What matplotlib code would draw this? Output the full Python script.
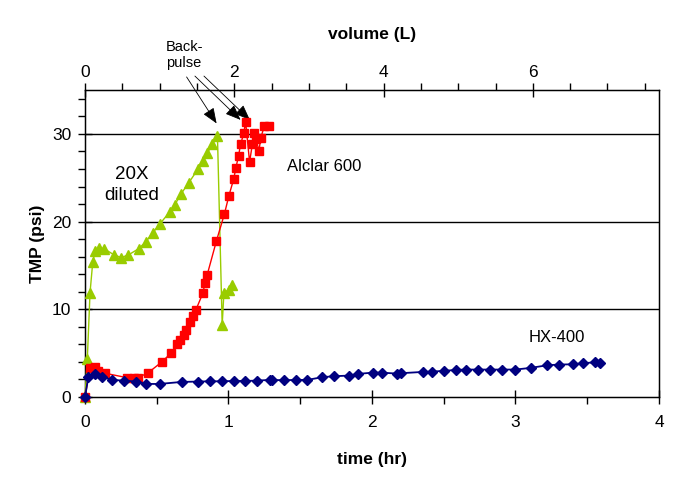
import matplotlib
matplotlib.use("Agg")
import matplotlib.pyplot as plt
from matplotlib.ticker import MultipleLocator

plt.rcParams['font.family'] = ['Liberation Sans', 'DejaVu Sans']

# 20X diluted (green triangles)
t_dil = [0, 0.016, 0.035, 0.054, 0.07, 0.10, 0.133, 0.203, 0.252, 0.303, 0.373, 0.424,
         0.471, 0.52, 0.59, 0.625, 0.671, 0.722, 0.788, 0.823, 0.853, 0.888, 0.923,
         0.956, 0.968, 1.002, 1.021]
tmp_dil = [0, 4.3, 11.9, 15.4, 16.6, 17.0, 16.9, 16.2, 15.9, 16.2, 16.9, 17.7,
           18.7, 19.7, 21.1, 21.9, 23.2, 24.4, 26.0, 26.9, 27.8, 28.9, 29.8,
           8.2, 11.9, 12.2, 12.8]

# Alclar 600 (red squares)
t_alc = [0, 0.035, 0.07, 0.093, 0.14, 0.29, 0.338, 0.366, 0.436, 0.536, 0.60, 0.641,
         0.664, 0.688, 0.706, 0.73, 0.753, 0.772, 0.823, 0.835, 0.851, 0.916, 0.972,
         1.002, 1.037, 1.051, 1.07, 1.084, 1.107, 1.119, 1.147, 1.166, 1.177, 1.194,
         1.212, 1.224, 1.25, 1.28]
tmp_alc = [0, 3.3, 3.4, 3.0, 2.7, 2.2, 2.2, 2.2, 2.7, 4.0, 5.0, 6.0,
           6.5, 7.1, 7.6, 8.6, 9.2, 9.9, 11.9, 13.0, 13.9, 17.8, 20.9,
           22.9, 24.9, 26.1, 27.5, 28.8, 30.1, 31.4, 26.8, 28.8, 30.1, 29.4,
           28.0, 29.5, 30.9, 30.9]

# HX-400 (navy diamonds)
t_hx = [0, 0.023, 0.07, 0.121, 0.189, 0.27, 0.357, 0.424, 0.52, 0.674, 0.788, 0.87,
        0.953, 1.037, 1.117, 1.20, 1.289, 1.303, 1.385, 1.469, 1.55, 1.653, 1.736,
        1.837, 1.90, 2.005, 2.068, 2.173, 2.20, 2.354, 2.42, 2.50, 2.587, 2.653,
        2.737, 2.82, 2.904, 3.00, 3.105, 3.222, 3.303, 3.399, 3.469, 3.555, 3.59]
tmp_hx = [0, 2.25, 2.66, 2.28, 1.94, 1.86, 1.75, 1.48, 1.48, 1.71, 1.75, 1.78,
          1.78, 1.82, 1.82, 1.86, 1.94, 1.94, 1.90, 1.94, 1.94, 2.25, 2.36,
          2.43, 2.62, 2.77, 2.77, 2.66, 2.70, 2.85, 2.89, 2.97, 3.08, 3.12,
          3.12, 3.12, 3.12, 3.12, 3.31, 3.61, 3.69, 3.72, 3.84, 3.95, 3.91]

# backpulse arrows: tail and head in (hr, psi)
arrow_tails = [(0.708, 36.5), (0.766, 36.6), (0.829, 36.6)]
arrow_heads = [(0.917, 31.2), (1.084, 31.6), (1.149, 31.6)]

fig = plt.figure(figsize=(6.94, 4.87), dpi=100)
ax = fig.add_axes([0.1225, 0.185, 0.827, 0.63])

ax2 = ax.twiny()
ax2.set_xlim(0, 7.69)
ax2.xaxis.set_major_locator(MultipleLocator(2))
ax2.xaxis.set_minor_locator(MultipleLocator(0.5))
ax2.tick_params(which='major', direction='inout', length=10, width=1, labelsize=12.5, pad=2)
ax2.tick_params(which='minor', direction='out', length=5, width=1)
ax2.set_xlabel('volume (L)', fontsize=12.5, fontweight='bold', labelpad=19)

# draw the data on top of the twin axes so markers at the edges aren't hidden
ax.set_zorder(ax2.get_zorder() + 1)
ax.patch.set_visible(False)

ax.plot(t_dil, tmp_dil, color='#99CC00', lw=1, marker='^', ms=6.5, mec='#99CC00', zorder=3, clip_on=False)
ax.plot(t_alc, tmp_alc, color='#FF0000', lw=1, marker='s', ms=5.5, mec='#FF0000', zorder=4, clip_on=False)
ax.plot(t_hx, tmp_hx, color='#000080', lw=1.3, marker='D', ms=5, mec='#000080', zorder=5, clip_on=False)

ax.set_xlim(0, 4)
ax.set_ylim(0, 35)
ax.xaxis.set_major_locator(MultipleLocator(1))
ax.xaxis.set_minor_locator(MultipleLocator(0.5))
ax.yaxis.set_major_locator(MultipleLocator(10))
ax.yaxis.set_minor_locator(MultipleLocator(2))
ax.tick_params(which='major', direction='inout', length=10, width=1, labelsize=12.5)
ax.tick_params(axis='x', which='major', pad=8)
ax.tick_params(axis='y', which='major', pad=5)
ax.tick_params(which='minor', direction='out', length=5, width=1)
for v in [10, 20, 30]:
    ax.axhline(v, color='black', lw=1, zorder=1)
for s in ax.spines.values():
    s.set_linewidth(1)

ax.set_xlabel('time (hr)', fontsize=12.5, fontweight='bold', labelpad=16)
ax.set_ylabel('TMP (psi)', fontsize=12.5, fontweight='bold', labelpad=5)

ax.text(0.325, 24.2, '20X\ndiluted', fontsize=13.5, ha='center', va='center', linespacing=1.3)
ax.text(1.67, 26.3, 'Alclar 600', fontsize=12, ha='center', va='center')
ax.text(3.29, 6.8, 'HX-400', fontsize=12, ha='center', va='center')
ax.text(0.69, 39.0, 'Back-\npulse', fontsize=10.5, ha='center', va='center', linespacing=1.2)

for tail, head in zip(arrow_tails, arrow_heads):
    ax.annotate('', xy=head, xytext=tail, annotation_clip=False,
                arrowprops=dict(arrowstyle='-|>,head_length=0.5,head_width=0.2',
                                color='black', lw=0.6,
                                mutation_scale=19, shrinkA=0, shrinkB=0))

fig.savefig('out.png', dpi=100)
